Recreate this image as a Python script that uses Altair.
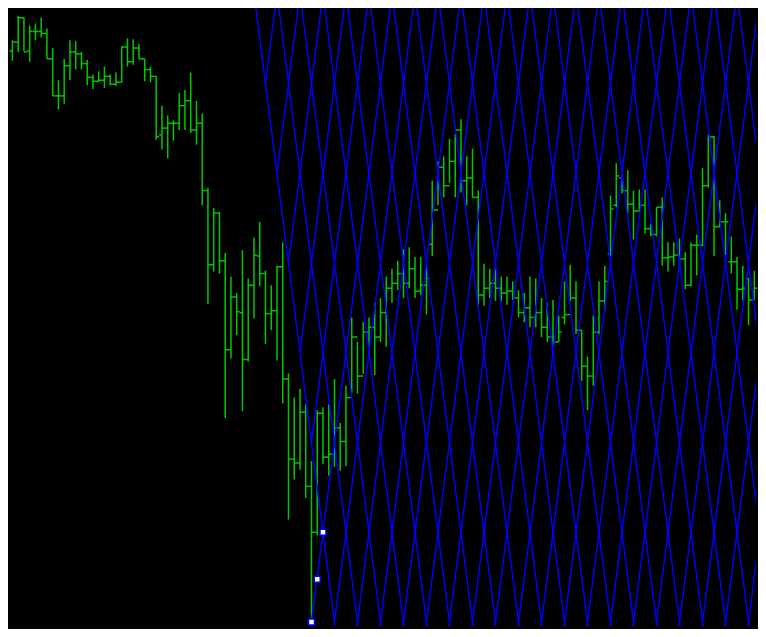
import altair as alt
import pandas as pd

# ---- OHLC bars (price units) ----
high = [598, 623, 621, 613, 615, 621, 610, 590, 557, 579,
        598, 597, 586, 578, 563, 566, 571, 563, 565, 592,
        600, 599, 594, 579, 571, 561, 531, 521, 516, 544,
        547, 565, 536, 523, 447, 426, 422, 380, 356, 339,
        383, 354, 396, 412, 362, 347, 367, 391, 257, 232,
        241, 225, 167, 219, 222, 225, 251, 206, 244, 314,
        289, 309, 314, 329, 334, 356, 364, 372, 384, 386,
        376, 376, 366, 454, 474, 479, 497, 502, 517, 479,
        487, 444, 369, 364, 364, 356, 356, 351, 342, 339,
        356, 354, 334, 329, 332, 316, 351, 368, 351, 301,
        274, 316, 351, 367, 439, 472, 457, 465, 444, 445,
        445, 410, 427, 437, 391, 391, 395, 381, 391, 399,
        467, 501, 500, 434, 421, 397, 376, 367, 354, 362]
low = [577, 586, 587, 576, 598, 601, 579, 541, 527, 533,
       557, 568, 568, 552, 548, 555, 549, 552, 551, 555,
       571, 573, 579, 556, 555, 496, 486, 477, 495, 506,
       506, 503, 491, 429, 328, 361, 359, 211, 272, 296,
       218, 269, 313, 346, 287, 301, 270, 226, 107, 148,
       158, 129, 2, 91, 164, 152, 161, 157, 162, 237,
       236, 256, 272, 255, 289, 284, 329, 342, 334, 344,
       334, 337, 317, 377, 429, 437, 452, 437, 442, 429,
       437, 327, 326, 334, 331, 331, 327, 332, 314, 309,
       304, 304, 294, 289, 274, 289, 307, 331, 297, 249,
       219, 244, 297, 321, 377, 427, 441, 421, 394, 422,
       400, 397, 397, 367, 361, 367, 366, 343, 346, 357,
       387, 447, 377, 407, 378, 359, 322, 332, 306, 332]
open_ = [587, 596, 621, 587, 607, 607, 605, 579, 541, 541,
         572, 586, 584, 574, 560, 556, 557, 561, 553, 555,
         591, 576, 590, 579, 568, 561, 501, 508, 513, 513,
         531, 536, 506, 513, 444, 368, 421, 372, 281, 335,
         319, 271, 347, 377, 359, 318, 321, 366, 251, 169,
         165, 217, 141, 94, 216, 171, 174, 201, 187, 232,
         294, 254, 299, 304, 294, 319, 344, 349, 359, 349,
         364, 341, 347, 389, 424, 468, 449, 474, 506, 454,
         457, 437, 337, 344, 349, 344, 339, 341, 334, 319,
         324, 314, 319, 304, 294, 289, 314, 317, 334, 301,
         264, 254, 299, 331, 379, 429, 457, 444, 430, 423,
         429, 405, 399, 427, 375, 376, 378, 374, 347, 388,
         388, 449, 499, 407, 412, 371, 371, 343, 354, 332]
close = [596, 621, 586, 607, 607, 605, 579, 541, 541, 572,
         586, 584, 574, 560, 556, 557, 561, 553, 555, 591,
         576, 590, 579, 568, 561, 499, 508, 513, 513, 531,
         536, 506, 513, 444, 368, 421, 372, 281, 335, 320,
         271, 347, 378, 359, 318, 321, 366, 251, 169, 165,
         217, 141, 94, 216, 171, 174, 201, 187, 232, 294,
         254, 299, 304, 294, 319, 344, 349, 359, 349, 364,
         341, 347, 354, 424, 468, 449, 474, 506, 454, 457,
         437, 337, 344, 349, 344, 339, 341, 334, 319, 324,
         314, 319, 304, 294, 289, 299, 317, 334, 301, 264,
         254, 299, 331, 351, 425, 459, 444, 430, 423, 429,
         405, 399, 427, 375, 376, 378, 374, 347, 388, 388,
         449, 499, 407, 412, 412, 371, 343, 344, 332, 344]

# ---- Gann grid anchors and handles ----
anchor_t = [52, 54]
anchor_p = [2, 94]
handle_t = [52, 53, 54]
handle_p = [2, 46, 94]

T_MIN, T_MAX = -0.77, 129.3
P_MIN, P_MAX = -2, 631

GREEN = "#00c800"
BLUE = "#0000ff"

bars = pd.DataFrame({"t": list(range(len(high))), "open": open_,
                     "high": high, "low": low, "close": close})

# grid geometry derived from the two anchors
t1, t2 = anchor_t
p1, p2 = anchor_p
slope = (p2 - p1) / (t2 - t1)
step = 2 * (t2 - t1)
top = P_MAX + 60
bot = P_MIN - 60
segs = []
for k in range(0, 26):  # descending lines, right of the anchor line
    c = t2 + step * k
    ta = c - (top - p2) / slope
    tb = c + (p2 - bot) / slope
    segs.append(dict(x=ta, y=top, x2=tb, y2=bot))
for j in range(-10, 40):  # ascending lines, starting at the boundary line
    ts = t2 + step * j / 2
    ps = p2 - slope * step * j / 2
    te = t2 + step * j + (top - p2) / slope
    if te <= ts:
        continue
    segs.append(dict(x=ts, y=ps, x2=te, y2=top))
segs.append(dict(x=t1, y=p1, x2=t2, y2=p2))
grid = pd.DataFrame(segs)

xs = alt.Scale(domain=[T_MIN, T_MAX], nice=False, zero=False)
ys = alt.Scale(domain=[P_MIN, P_MAX], nice=False, zero=False)

base = alt.Chart(bars)
hl = base.mark_rule(color=GREEN, strokeWidth=1.5).encode(
    x=alt.X("t:Q", scale=xs, axis=None),
    y=alt.Y("low:Q", scale=ys, axis=None),
    y2="high:Q",
)
op = base.transform_calculate(tl="datum.t - 0.5").mark_rule(
    color=GREEN, strokeWidth=1.5).encode(
    x=alt.X("tl:Q", scale=xs, axis=None), x2="t:Q",
    y=alt.Y("open:Q", scale=ys, axis=None),
)
cl = base.transform_calculate(tr="datum.t + 0.5").mark_rule(
    color=GREEN, strokeWidth=1.5).encode(
    x=alt.X("t:Q", scale=xs, axis=None), x2="tr:Q",
    y=alt.Y("close:Q", scale=ys, axis=None),
)
lines = alt.Chart(grid).mark_rule(color=BLUE, strokeWidth=1.4, clip=True).encode(
    x=alt.X("x:Q", scale=xs, axis=None), x2="x2:Q",
    y=alt.Y("y:Q", scale=ys, axis=None), y2="y2:Q",
)
handles = alt.Chart(pd.DataFrame({"t": handle_t, "p": handle_p})).mark_square(
    size=36, filled=True, fill="white", stroke=BLUE, strokeWidth=1.5, opacity=1
).encode(
    x=alt.X("t:Q", scale=xs, axis=None),
    y=alt.Y("p:Q", scale=ys, axis=None),
)

chart = alt.layer(hl, op, cl, lines, handles).properties(
    width=750, height=621,
    autosize=alt.AutoSizeParams(type="fit", contains="padding"),
    background="black", padding=0,
).configure_view(stroke=None)

chart.save("out.html", embed_options={"renderer": "svg", "actions": False})
